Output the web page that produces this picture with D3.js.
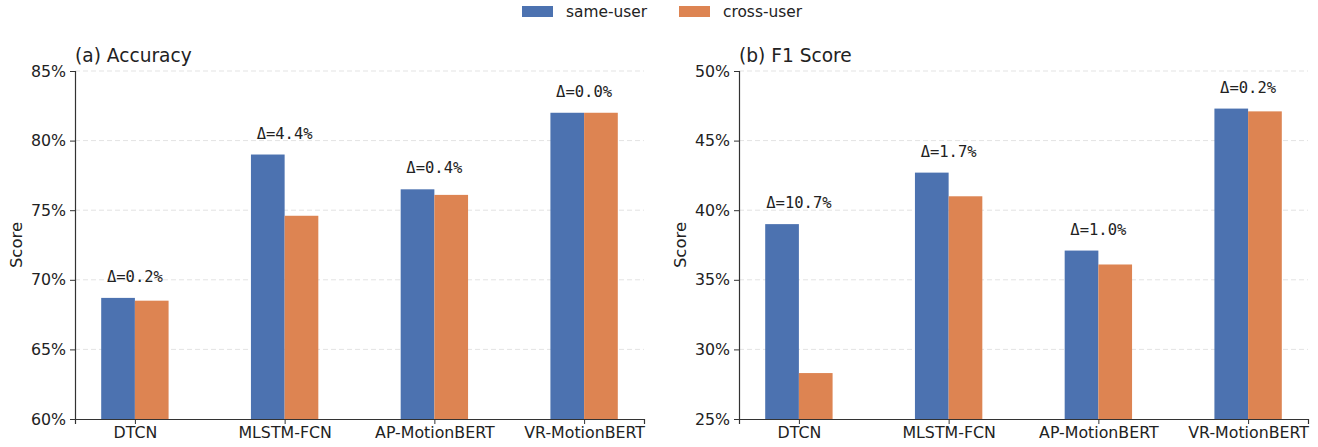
<!DOCTYPE html>
<html>
<head>
<meta charset="utf-8">
<script src="https://cdn.jsdelivr.net/npm/d3@7"></script>
<style>
  body { margin: 0; background: #fff; }
  text { font-family: "DejaVu Sans", sans-serif; fill: #222; }
  .mono { font-family: "DejaVu Sans Mono", monospace; }
</style>
</head>
<body>
<div id="chart"></div>
<script>
const models = ['DTCN', 'MLSTM-FCN', 'AP-MotionBERT', 'VR-MotionBERT'];
const seriesNames = ['same-user', 'cross-user'];
const colors = ['#4c72b0', '#dd8452'];

const accSame = [68.7, 79.0, 76.5, 82.0];
const accCross = [68.5, 74.6, 76.1, 82.0];
const f1Same = [39.0, 42.7, 37.1, 47.3];
const f1Cross = [28.3, 41.0, 36.1, 47.1];

const accTicks = [60, 65, 70, 75, 80, 85];
const f1Ticks = [25, 30, 35, 40, 45, 50];

const W = 1318;
const H = 447;

const svg = d3.select('#chart').append('svg')
  .attr('width', W)
  .attr('height', H);

// legend
const legend = svg.append('g');
[[522, 566], [679, 723]].forEach(([rx, tx], i) => {
  legend.append('rect').attr('x', rx).attr('y', 6).attr('width', 31).attr('height', 11)
    .attr('fill', colors[i]);
  legend.append('text').attr('x', tx).attr('y', 12).attr('dy', '0.35em')
    .style('font-size', '15.4px').text(seriesNames[i]);
});

const barW = 0.225;

function panel(left, title, same, cross, ticks) {
  const top = 71;
  const bottom = 419;
  const right = left + 569;

  const x = d3.scaleLinear().domain([-0.4, 3.4]).range([left, right]);
  const y = d3.scaleLinear().domain([ticks[0], ticks[ticks.length - 1]]).range([bottom, top]);

  const g = svg.append('g');

  // grid
  g.selectAll('.grid').data(ticks.slice(1)).enter().append('line')
    .attr('x1', left).attr('x2', right)
    .attr('y1', d => y(d)).attr('y2', d => y(d))
    .attr('stroke', '#e3e3e3').attr('stroke-width', 1)
    .attr('stroke-dasharray', '5,3');

  // bars
  [same, cross].forEach((vals, s) => {
    g.selectAll(null).data(vals).enter().append('rect')
      .attr('x', (d, i) => x(i + (s === 0 ? -barW : 0)))
      .attr('width', x(barW) - x(0))
      .attr('y', d => y(d))
      .attr('height', d => bottom - y(d))
      .attr('fill', colors[s]);
  });

  // delta labels
  g.selectAll(null).data(models).enter().append('text')
    .attr('class', 'mono')
    .attr('x', (d, i) => x(i))
    .attr('y', (d, i) => y(Math.max(same[i], cross[i])) - 16)
    .attr('text-anchor', 'middle')
    .style('font-size', '15.5px')
    .text((d, i) => 'Δ=' + (same[i] - cross[i]).toFixed(1) + '%');

  // axes
  const yAxis = d3.axisLeft(y).tickValues(ticks).tickFormat(d => d + '%').tickSizeOuter(0).tickSize(5).tickPadding(4);
  const ya = g.append('g').attr('transform', `translate(${left},0)`).call(yAxis);
  const xAxis = d3.axisBottom(x).tickValues([0, 1, 2, 3]).tickFormat(i => models[i]).tickSizeOuter(0).tickSize(5).tickPadding(3);
  const xa = g.append('g').attr('transform', `translate(0,${bottom})`).call(xAxis);
  [ya, xa].forEach(a => {
    a.select('.domain').attr('stroke', '#333').attr('stroke-width', 1.2);
    a.selectAll('.tick line').attr('stroke', '#333');
    a.selectAll('.tick text').style('font-size', '15.8px').attr('fill', '#222')
      .style('font-family', '"DejaVu Sans", sans-serif');
  });

  g.append('text')
    .attr('transform', `translate(${left - 59},${(top + bottom) / 2}) rotate(-90)`)
    .attr('text-anchor', 'middle')
    .attr('dy', '0.35em')
    .style('font-size', '16.5px')
    .text('Score');

  g.append('text')
    .attr('x', left)
    .attr('y', 62)
    .style('font-size', '18.6px')
    .text(title);
}

panel(75, '(a) Accuracy', accSame, accCross, accTicks);
panel(739, '(b) F1 Score', f1Same, f1Cross, f1Ticks);
</script>
</body>
</html>
